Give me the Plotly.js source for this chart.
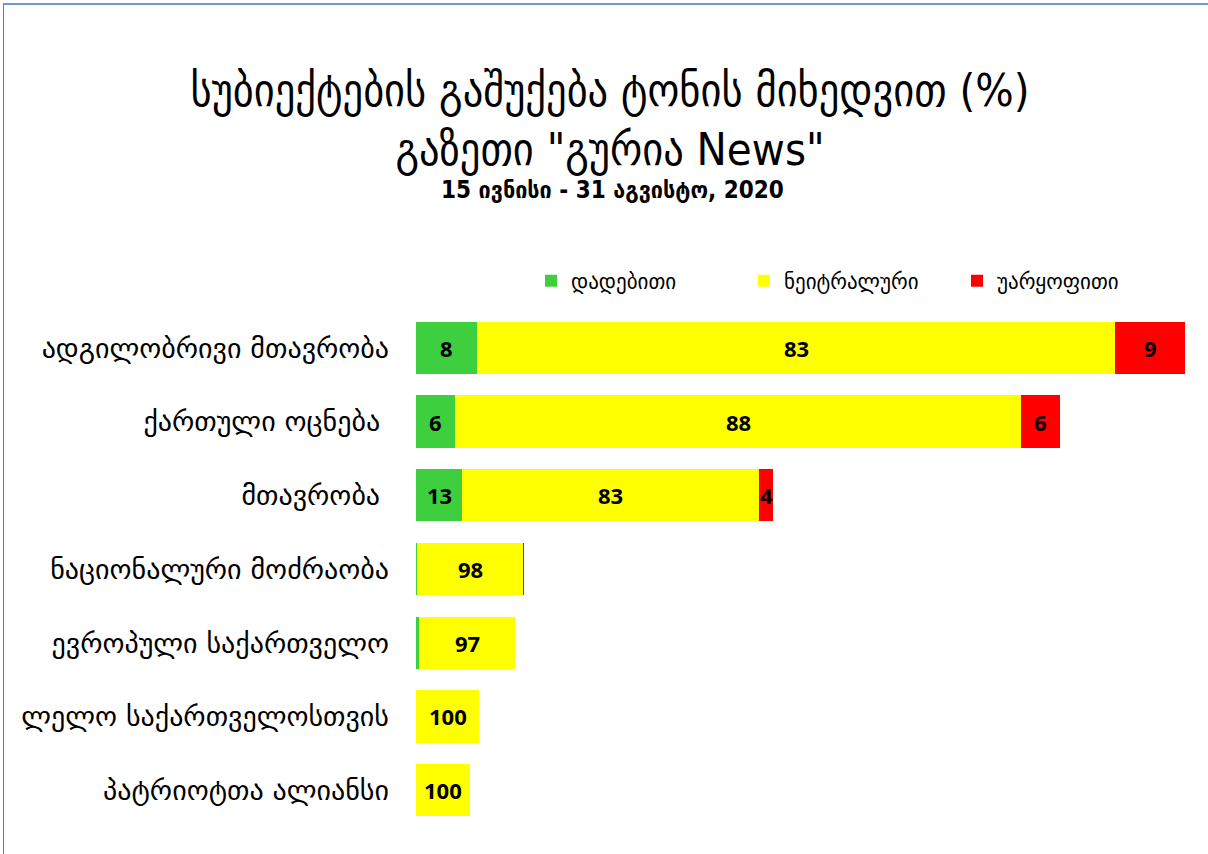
<!DOCTYPE html>
<html>
<head>
<meta charset="utf-8">
<script src="https://cdn.plot.ly/plotly-3.0.1.min.js"></script>
<style>
  html, body { margin: 0; padding: 0; background: #fff; }
  #frame { position: absolute; left: 3px; top: 3px; width: 1210px; height: 860px;
           border-left: 1px solid #4f81bd; border-top: 2px solid #6f98cc; box-sizing: border-box; pointer-events: none; z-index: 5; }
  #chart { width: 1208px; height: 854px; }
</style>
</head>
<body>
<div id="frame"></div>
<div id="chart"></div>
<script>
// Subjects (parties / institutions)
const categories = [
  "ადგილობრივი მთავრობა",
  "ქართული ოცნება ",
  "მთავრობა ",
  "ნაციონალური მოძრაობა",
  "ევროპული საქართველო",
  "ლელო საქართველოსთვის",
  "პატრიოტთა ალიანსი"
];
// Estimated total number of mentions (bar length)
const totals = [142, 119, 66, 20, 18.3, 11.7, 10];
// Tone percentages
const positive = [8, 6, 13, 1, 3, 0, 0];
const neutral  = [83, 88, 83, 98, 97, 100, 100];
const negative = [9, 6, 4, 1, 0, 0, 0];

const seriesNames = ["დადებითი", "ნეიტრალური", "უარყოფითი"];
const seriesColors = ["#3ecf3e", "#ffff00", "#ff0000"];
const seriesPct = [positive, neutral, negative];

const titleLines = ["სუბიექტების გაშუქება ტონის მიხედვით (%)", "გაზეთი \"გურია News\""];
const subtitle = "15 ივნისი - 31 აგვისტო, 2020";

const traces = seriesPct.map((pct, i) => ({
  type: "bar",
  orientation: "h",
  name: seriesNames[i],
  y: categories,
  x: pct.map((p, j) => totals[j] * p / 100),
  marker: { color: seriesColors[i], line: { width: 0 } },
  hoverinfo: "skip"
}));

// Labels at segment centres
const annotations = [];
categories.forEach((c, j) => {
  let start = 0;
  seriesPct.forEach((pct) => {
    const w = totals[j] * pct[j] / 100;
    if (pct[j] >= 4) {
      annotations.push({
        x: start + w / 2, y: c, xref: "x", yref: "y",
        text: String(pct[j]), showarrow: false,
        font: { family: "Open Sans, DejaVu Sans, sans-serif", size: 22, color: "#000", weight: "bold" }
      });
    }
    start += w;
  });
});

annotations.push({
  xref: "paper", yref: "paper", x: (612 - 416) / 774, y: (827 - 190) / 516,
  xanchor: "center", yanchor: "middle", showarrow: false,
  text: "<b>" + subtitle + "</b>",
  font: { family: "DejaVu Sans Condensed, DejaVu Sans, sans-serif", size: 24, color: "#000" }
});

const layout = {
  width: 1208, height: 854,
  paper_bgcolor: "#fff", plot_bgcolor: "#fff",
  margin: { l: 416, r: 18, t: 311, b: 27, autoexpand: false },
  barmode: "stack",
  bargap: 0.29,
  title: {
    text: titleLines.join("<br>"),
    x: 0.505, xanchor: "center", xref: "container",
    y: 1 - 106 / 854, yanchor: "middle", yref: "container",
    font: { family: "DejaVu Sans Condensed, DejaVu Sans, sans-serif", size: 45, color: "#000" }
  },
  xaxis: {
    range: [0, 143], visible: false, showgrid: false, zeroline: false, fixedrange: true
  },
  yaxis: {
    autorange: "reversed", showgrid: false, zeroline: false, showline: false,
    ticks: "", ticklabelstandoff: 26,
    tickfont: { family: "DejaVu Sans, sans-serif", size: 28, color: "#000" }
  },
  legend: {
    orientation: "h", x: (531 - 416) / 774, xanchor: "left",
    y: (827 - 281) / 516, yanchor: "middle",
    traceorder: "normal",
    font: { family: "DejaVu Sans, sans-serif", size: 21, color: "#000" },
    entrywidth: 168, itemwidth: 30
  },
  annotations: annotations,
  showlegend: true
};

Plotly.newPlot("chart", traces, layout, { displayModeBar: false, staticPlot: true });
</script>
</body>
</html>
